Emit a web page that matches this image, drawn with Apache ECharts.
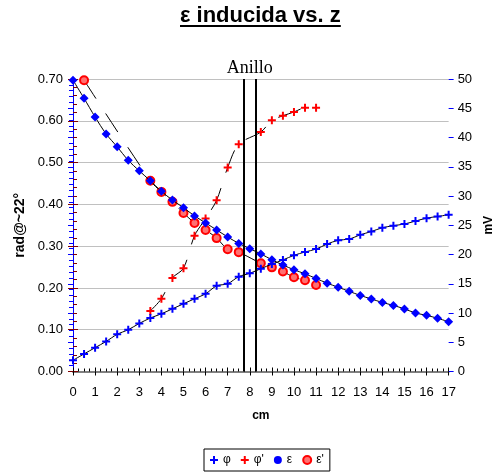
<!DOCTYPE html>
<html><head><meta charset="utf-8">
<script src="https://cdn.jsdelivr.net/npm/echarts@6/dist/echarts.min.js"></script>
<style>html,body{margin:0;padding:0;background:#fff}#c{width:503px;height:474px}</style>
</head><body><div id="c"></div>
<script>
// positions along the axis (cm)
const zCm = [0,0.5,1,1.5,2,2.5,3,3.5,4,4.5,5,5.5,6,6.5,7,7.5,8,8.5,9,9.5,10,10.5,11,11.5,12,12.5,13,13.5,14,14.5,15,15.5,16,16.5,17];
// phi (rad), left axis
const phi = [0.027,0.042,0.057,0.072,0.089,0.100,0.115,0.128,0.138,0.150,0.162,0.174,0.186,0.205,0.210,0.227,0.235,0.246,0.257,0.267,0.278,0.286,0.293,0.305,0.314,0.317,0.327,0.335,0.344,0.349,0.353,0.360,0.367,0.371,0.375];
// epsilon (mV), right axis
const eps = [49.8,46.7,43.5,40.6,38.4,36.1,34.3,32.6,30.8,29.3,28.0,26.6,25.4,24.2,23.0,21.9,21.0,20.1,19.1,18.2,17.4,16.7,15.9,15.1,14.4,13.7,13.0,12.4,11.8,11.3,10.7,10.0,9.6,9.1,8.5];
// phi' (rad), left axis
const zPhiPrime = [3.5,4,4.5,5,5.5,6,6.5,7,7.5,8.5,9,9.5,10,10.5,11];
const phiPrime = [0.145,0.174,0.224,0.247,0.325,0.366,0.410,0.488,0.544,0.573,0.601,0.612,0.621,0.631,0.631];
// epsilon' (mV), right axis
const zEpsPrime = [0.5,3.5,4,4.5,5,5.5,6,6.5,7,7.5,8.5,9,9.5,10,10.5,11];
const epsPrime = [49.8,32.6,30.7,29.0,27.1,25.4,24.2,22.8,20.9,20.4,18.5,17.8,17.1,16.1,15.6,14.8];
// ring edges (cm)
const ringEdges = [7.75, 8.25];
const ringLabel = 'Anillo';
const seriesNames = ['φ', "φ'", 'ε', "ε'"];
const titleText = 'ε inducida vs. z';

const PLUS = 'path://M3,0h2v3h3v2h-3v3h-2v-3h-3v-2h3z';
const pair = (xs, ys) => xs.map((x, i) => [x, ys[i]]);
const FONT = 'Liberation Sans, Arial, sans-serif';

// underline width from the real title text
const mctx = document.createElement('canvas').getContext('2d');
mctx.font = 'bold 22px Liberation Sans, Arial, sans-serif';
const titleW = mctx.measureText(titleText).width;
const titleLeft = 180;

const tickOverlay = (extra) => Object.assign({
  type: 'value', axisLine: {show: false}, axisLabel: {show: false}, splitLine: {show: false},
  minorTick: {show: false}
}, extra);

const chart = echarts.init(document.getElementById('c'), null, {renderer: 'canvas'});
chart.setOption({
  animation: false,
  backgroundColor: '#fff',
  title: {
    text: titleText, left: titleLeft, top: 3, padding: 0,
    textStyle: {fontFamily: FONT, fontSize: 22, fontWeight: 'bold', color: '#000', lineHeight: 26}
  },
  graphic: [{type: 'line', shape: {x1: titleLeft, y1: 26, x2: titleLeft + titleW, y2: 26}, style: {stroke: '#000', lineWidth: 2}}],
  grid: {left: 73, right: 44, top: 79, bottom: 102.5, containLabel: false},
  legend: {
    top: 449, left: 204,
    data: [
      {name: seriesNames[0], icon: PLUS},
      {name: seriesNames[1], icon: PLUS},
      {name: seriesNames[2], icon: 'circle'},
      {name: seriesNames[3], icon: 'circle'}
    ],
    itemWidth: 8, itemHeight: 8, itemGap: 10,
    borderColor: '#000', borderWidth: 1, borderRadius: 0, padding: [5, 6],
    textStyle: {fontFamily: FONT, fontSize: 12, color: '#000'}
  },
  xAxis: [{
    type: 'value', min: 0, max: 17, interval: 1,
    name: 'cm', nameLocation: 'middle', nameGap: 38,
    nameTextStyle: {fontFamily: FONT, fontSize: 12, fontWeight: 'bold', color: '#000'},
    axisLine: {lineStyle: {color: '#000', width: 1}},
    axisTick: {show: true, inside: true, length: 4, lineStyle: {color: '#000'}},
    minorTick: {show: true, splitNumber: 4, length: 3, lineStyle: {color: '#000'}},
    axisLabel: {fontFamily: FONT, fontSize: 13, color: '#000', margin: 14},
    splitLine: {show: false}
  }, {
    type: 'value', min: 0, max: 17, position: 'top',
    axisLine: {show: true, lineStyle: {color: '#808080', width: 2}},
    axisTick: {show: false}, axisLabel: {show: false}, splitLine: {show: false}
  }, tickOverlay({
    min: 0, max: 17, interval: 1, position: 'bottom',
    axisTick: {show: true, inside: false, length: 4, lineStyle: {color: '#000'}}
  })],
  yAxis: [{
    type: 'value', min: 0, max: 0.7, interval: 0.1,
    name: 'rad@~22°', nameLocation: 'middle', nameGap: 43,
    nameTextStyle: {fontFamily: FONT, fontSize: 14, fontWeight: 'bold', color: '#000'},
    axisLine: {show: true, lineStyle: {color: '#800000', width: 1}},
    axisTick: {show: true, inside: true, length: 5, lineStyle: {color: '#800000'}},
    minorTick: {show: true, splitNumber: 5, length: 4, lineStyle: {color: '#800000'}},
    axisLabel: {fontFamily: FONT, fontSize: 13, color: '#000', margin: 10, formatter: v => v.toFixed(2)},
    splitLine: {show: true, lineStyle: {color: '#c0c0c0', width: 1}}
  }, {
    type: 'value', min: 0, max: 50, interval: 5, position: 'right',
    name: 'mV', nameLocation: 'middle', nameGap: 29, nameRotate: 90,
    nameTextStyle: {fontFamily: FONT, fontSize: 12, fontWeight: 'bold', color: '#000'},
    axisLine: {show: true, lineStyle: {color: '#0000ff', width: 1}},
    axisTick: {show: true, inside: true, length: 5, lineStyle: {color: '#0000ff'}},
    minorTick: {show: true, splitNumber: 5, length: 4, lineStyle: {color: '#0000ff'}},
    axisLabel: {fontFamily: FONT, fontSize: 13, color: '#000', margin: 9},
    splitLine: {show: false}
  }, tickOverlay({
    min: 0, max: 0.7, interval: 0.1, position: 'left',
    axisTick: {show: true, inside: false, length: 5, lineStyle: {color: '#800000'}}
  }), tickOverlay({
    min: 0, max: 50, interval: 5, position: 'right',
    axisTick: {show: true, inside: false, length: 5, lineStyle: {color: '#0000ff'}}
  })],
  series: [
    {
      name: seriesNames[3], type: 'line', yAxisIndex: 1, data: pair(zEpsPrime, epsPrime),
      smooth: 0.3, symbol: 'circle', symbolSize: 8,
      itemStyle: {color: '#ff7070', borderColor: '#ff0000', borderWidth: 2},
      lineStyle: {color: '#000', width: 1, type: [22, 18]}, z: 3
    },
    {
      name: seriesNames[1], type: 'line', yAxisIndex: 0, data: pair(zPhiPrime, phiPrime),
      smooth: 0.3, symbol: PLUS, symbolSize: 8,
      itemStyle: {color: '#ff0000'},
      lineStyle: {color: '#000', width: 1, type: [24, 16]}, z: 3
    },
    {
      name: seriesNames[2], type: 'line', yAxisIndex: 1, data: pair(zCm, eps),
      smooth: 0.3, symbol: 'diamond', symbolSize: 9,
      itemStyle: {color: '#0000ff'},
      lineStyle: {color: '#000', width: 1}, z: 4
    },
    {
      name: seriesNames[0], type: 'line', yAxisIndex: 0, data: pair(zCm, phi),
      smooth: 0.3, symbol: PLUS, symbolSize: 8,
      itemStyle: {color: '#0000ff'},
      lineStyle: {color: '#000', width: 1}, z: 4,
      markLine: {
        silent: true, symbol: 'none', label: {show: false},
        lineStyle: {color: '#000', width: 2, type: 'solid'},
        data: ringEdges.map(x => ({xAxis: x}))
      },
      markArea: {
        silent: true, itemStyle: {color: 'rgba(0,0,0,0)'},
        label: {show: true, position: 'top', distance: 2, fontFamily: 'Liberation Serif, Times New Roman, serif', fontSize: 18, color: '#000'},
        data: [[{name: ringLabel, xAxis: ringEdges[0], yAxis: 0.7}, {xAxis: ringEdges[1], yAxis: 0}]]
      }
    }
  ]
});
</script>
</body></html>
